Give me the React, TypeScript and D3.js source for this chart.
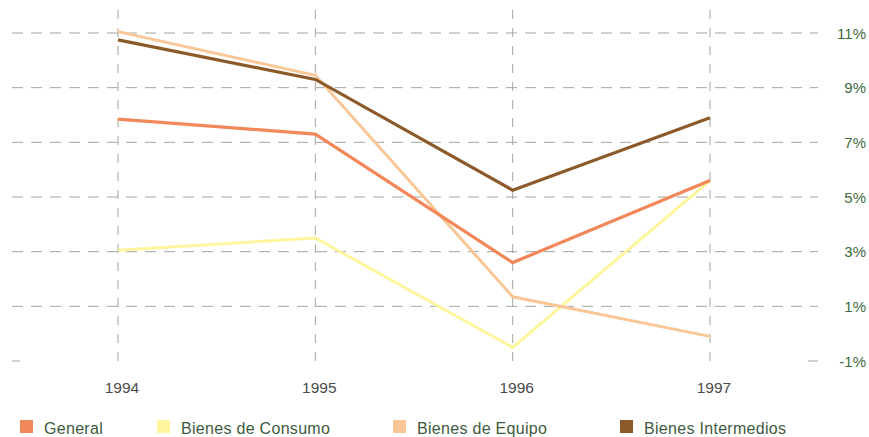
import React from "react";
import * as d3 from "d3";

const years = ["1994", "1995", "1996", "1997"];
const yTicks = [11, 9, 7, 5, 3, 1, -1];
const general = [7.85, 7.3, 2.6, 5.6];
const consumo = [3.05, 3.5, -0.5, 5.6];
const equipo = [11.05, 9.45, 1.35, -0.1];
const intermedios = [10.75, 9.3, 5.25, 7.9];

const series = [
  { name: "General", values: general, color: "#f2875a", width: 3.2 },
  { name: "Bienes de Consumo", values: consumo, color: "#fff59c", width: 3 },
  { name: "Bienes de Equipo", values: equipo, color: "#f9c797", width: 3 },
  { name: "Bienes Intermedios", values: intermedios, color: "#8c5a2a", width: 3.2 },
];
const drawOrder = [1, 2, 0, 3];
const legendX = [20, 157, 393, 620];

export default function App() {
  const W = 869, H = 437;
  const x = d3.scalePoint().domain(years).range([118, 710]);
  const y = d3.scaleLinear().domain([-1, 11]).range([361, 33]);
  const line = d3.line<number>().x((_, i) => x(years[i])!).y((d) => y(d));
  const gridColor = "#a3a69e";
  return (
    <svg width={W} height={H} style={{ position: "absolute", left: 0, top: 0, background: "#fff" }}
      fontFamily="'Liberation Sans', Arial, sans-serif">
      {yTicks.map((t) =>
        t === -1 ? (
          <g key={t}>
            <line x1={12} x2={20} y1={y(t)} y2={y(t)} stroke={gridColor} strokeWidth={1} />
            <line x1={808} x2={818} y1={y(t)} y2={y(t)} stroke={gridColor} strokeWidth={1} />
          </g>
        ) : (
          <line key={t} x1={12} x2={818} y1={y(t)} y2={y(t)} stroke={gridColor} strokeWidth={1} strokeDasharray="11,8" />
        )
      )}
      {years.map((yr) => (
        <line key={yr} x1={x(yr)} x2={x(yr)} y1={10} y2={368} stroke={gridColor} strokeWidth={1} strokeDasharray="9,9" />
      ))}
      {drawOrder.map((i) => {
        const s = series[i];
        return (
          <path key={s.name} d={line(s.values)!} fill="none" stroke={s.color} strokeWidth={s.width} strokeLinejoin="miter" />
        );
      })}
      {yTicks.map((t) => (
        <text key={t} x={866} y={y(t) + 5.5} textAnchor="end" fontSize={15} fill="#3e6a3e">
          {t}%
        </text>
      ))}
      {years.map((yr) => (
        <text key={yr} x={x(yr) + 4} y={393} textAnchor="middle" fontSize={15.5} fill="#4a4a4a">
          {yr}
        </text>
      ))}
      {series.map((s, i) => (
        <g key={s.name}>
          <rect x={legendX[i]} y={420} width={13} height={13} fill={s.color} />
          <text x={legendX[i] + 24} y={434} fontSize={16} fill="#3e5a3e" letterSpacing={0.3}>
            {s.name}
          </text>
        </g>
      ))}
    </svg>
  );
}
